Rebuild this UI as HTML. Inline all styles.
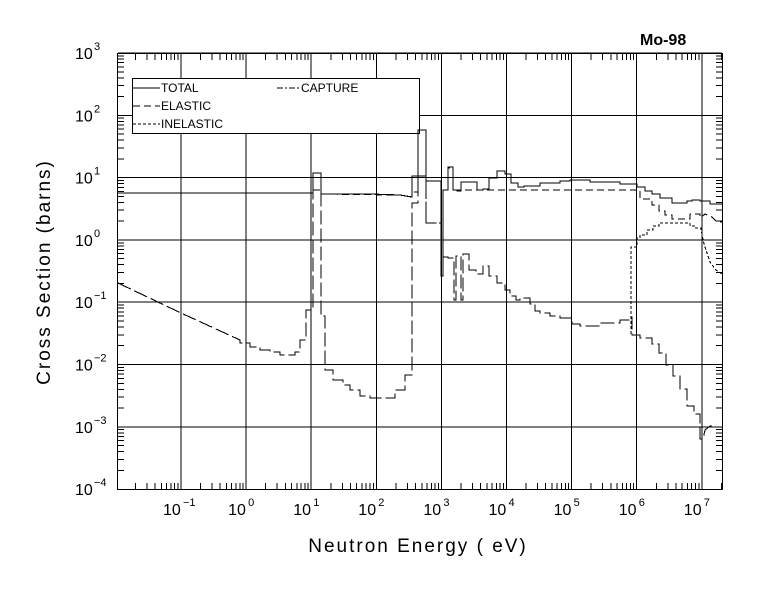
<!DOCTYPE html>
<html><head><meta charset="utf-8"><style>
body{margin:0;background:#fff}
svg text{font-family:"Liberation Sans",sans-serif;fill:#000}
</style></head><body>
<svg id="s" width="780" height="590" viewBox="0 0 780 590" xmlns="http://www.w3.org/2000/svg">
<rect width="780" height="590" fill="#fff"/>
<g id="grid" stroke="#000" stroke-width="1" fill="none" shape-rendering="crispEdges"></g>
<rect x="117.5" y="53.5" width="605" height="436" fill="none" stroke="#000" stroke-width="1.3" shape-rendering="crispEdges"/>
<rect x="132.5" y="78.5" width="287" height="55" fill="#fff" stroke="#000" stroke-width="1.2" shape-rendering="crispEdges"/>
<g font-size="12" fill="#000" shape-rendering="crispEdges">
<line x1="133" y1="88" x2="160" y2="88" stroke="#000"/><text x="161" y="92">TOTAL</text>
<line x1="133" y1="106" x2="160" y2="106" stroke="#000" stroke-dasharray="7,4"/><text x="161" y="110">ELASTIC</text>
<line x1="133" y1="124" x2="160" y2="124" stroke="#000" stroke-dasharray="3,2"/><text x="161" y="128">INELASTIC</text>
<line x1="277" y1="88" x2="300" y2="88" stroke="#000" stroke-dasharray="6,2,2,2"/><text x="301" y="92">CAPTURE</text>
</g>
<g fill="none" stroke="#000" stroke-width="1.1" shape-rendering="crispEdges">
<polyline id="total" points="118,193 300,193 313,193 313,173 321,173 321,194 370,194 400,195 412,197 412,176 418,176 418,130 426,130 426,181 441,181 441,276 443,276 443,190 448,190 448,167 453,167 453,190 457,190 457,191 461,191 461,182 477,182 477,190 483,190 483,189 489,189 489,178 497,178 497,171 505,171 505,174 511,174 511,183 518,183 518,187 524,187 524,186 540,186 540,183 560,183 560,181 570,181 570,180 590,180 590,182 620,182 620,184 637,184 637,187 645,187 645,191 652,191 652,194 660,194 660,198 672,198 672,203 687,203 687,201 692,201 692,200 700,200 700,201 710,201 710,204 722,204"/>
<polyline stroke-dasharray="7,4" points="118,193 300,193 313,193 313,190 321,190 321,194 400,195 412,197 412,192 418,192 418,176 426,176 426,187 426,223 441,223 441,276 443,276 443,190 448,190 448,168 453,168 453,190 637,190 640,190 640,199 652,199 652,205 659,205 659,211 665,211 665,215 672,215 672,219 690,219 690,214 700,214 700,218 705,214 712,217 716,221 722,222"/>
<polyline stroke-dasharray="3,2" points="631,334 631,247 637,247 637,238 640,238 640,235 647,235 647,230 653,230 653,226 659,226 659,223 690,223 690,226 695,226 695,228 701,228 703,240 706,250 710,262 716,270 722,274"/>
<polyline stroke-dasharray="14,4" points="118,283 181,313 240,340 240,343 250,343 250,347 260,347 260,350 270,350 270,352 280,352 280,355 295,355 295,352 300,352 300,340 306,340 306,310 313,310 313,173 321,173 321,316 325,316 325,370 333,370 333,380 343,380 343,385 350,385 350,390 360,390 360,396 370,396 370,398 395,398 395,390 405,390 405,375 412,375 412,203 418,203 418,176 426,176 426,223 441,223 441,276 443,276 443,257 448,257 448,258 454,258 454,300 456,300 456,256 461,256 461,300 463,300 463,254 469,254 469,270 476,270 476,274 483,274 483,266 489,266 489,276 497,276 497,283 505,283 505,290 510,290 510,296 516,296 516,300 520,300 520,298 530,298 530,304 535,304 535,311 540,311 540,313 550,313 550,316 560,316 560,318 572,318 572,324 580,324 580,326 600,326 600,323 620,323 620,320 630,320 630,317 632,317 632,335 640,335 640,338 652,338 652,344 659,344 659,353 666,353 666,365 673,365 673,376 680,376 680,389 687,389 687,406 694,406 694,414 700,414 700,439 703,439 705,430 710,426 716,427 722,427"/>
</g>
<g id="labels" font-size="15"></g>
<text x="640" y="45" font-size="16" font-weight="bold">Mo-98</text>
<text x="418" y="552" font-size="19" text-anchor="middle" letter-spacing="2">Neutron Energy ( eV)</text>
<text transform="translate(50,272) rotate(-90)" font-size="19" text-anchor="middle" letter-spacing="2">Cross Section (barns)</text>
</svg>
<script>
var ns="http://www.w3.org/2000/svg",g=document.getElementById('grid'),L=document.getElementById('labels');
function ln(a,b,c,d){var l=document.createElementNS(ns,'line');l.setAttribute('x1',a);l.setAttribute('y1',b);l.setAttribute('x2',c);l.setAttribute('y2',d);g.appendChild(l);}
function tx(x,y,t,s,anc){var e=document.createElementNS(ns,'text');e.setAttribute('x',x);e.setAttribute('y',y);e.setAttribute('font-size',s);if(anc)e.setAttribute('text-anchor',anc);e.textContent=t;L.appendChild(e);}
var X=function(e){return 181+(e+1)*65.1;},Y=function(p){return 53+(3-p)*62.3;};
for(var d=-6;d<=7;d++){for(var k=1;k<10;k++){var x=X(d+Math.log10(k));if(x<118||x>722)continue;
 if(k==1){ln(x,54,x,489);} else {ln(x,489,x,483);ln(x,54,x,60);}}}
for(var p=-4;p<=3;p++){for(var k=1;k<10;k++){var y=Y(p+Math.log10(k));if(y<53||y>489)continue;
 if(k==1){ln(118,y,722,y);} else {ln(118,y,124,y);ln(722,y,716,y);}}}
for(var d=-1;d<=7;d++){var x=X(d);tx(x-18,515,'10',16);tx(x+2,506,String(d).replace('-','\u2212'),11);}
for(var p=-4;p<=3;p++){var y=Y(p);tx(75,y+6,'10',16);tx(94,y-3,String(p).replace('-','\u2212'),11);}
</script>
</body></html>
